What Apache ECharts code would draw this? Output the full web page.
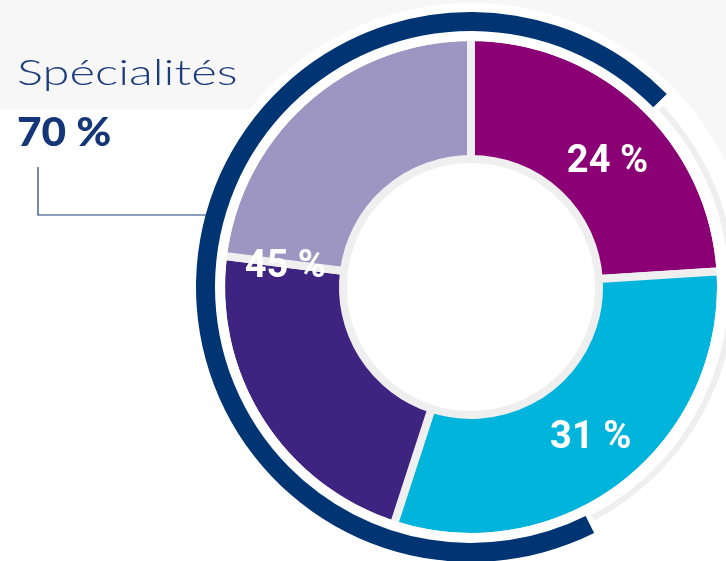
<!DOCTYPE html>
<html>
<head>
<meta charset="utf-8">
<script src="https://cdn.jsdelivr.net/npm/echarts@6/dist/echarts.min.js"></script>
<style>
html,body{margin:0;padding:0;background:#ffffff;}
#chart{width:726px;height:561px;}
</style>
</head>
<body>
<div id="chart"></div>
<script>
// ---- data ----
var sliceNames = ['A', 'B', 'C', 'D'];
var sliceValues = [24, 31, 22, 23];
var sliceColors = ['#8B0074', '#00B4DC', '#3E2480', '#9E96C2'];
var labelValues = [24, 31, 45];
var labelOffsets = [[5, 15], [2, 0], [4, 11]];
var ringTitle = 'Spécialités';
var ringValues = [70, 30];

var CX = 471, CY = 287;
var chart = echarts.init(document.getElementById('chart'), null, {renderer: 'canvas'});

var option = {
  backgroundColor: '#ffffff',
  animation: false,
  graphic: [
    {type: 'rect', z: -10, shape: {x: 0, y: 0, width: 726, height: 110}, style: {fill: '#f7f7f7'}, silent: true},
    {type: 'rect', z: -10, shape: {x: 600, y: 0, width: 126, height: 200}, style: {fill: '#f7f7f7'}, silent: true},
    {type: 'circle', z: -9, shape: {cx: CX, cy: CY, r: 284}, style: {fill: '#ffffff'}, silent: true},
    {type: 'text', z: 5, x: 17, y: 55, scaleX: 1.36, style: {text: ringTitle, x: 0, y: 0, fontSize: 36, fontWeight: 300, fontFamily: 'Lato, "Open Sans", sans-serif', fill: '#1D3C7C', verticalAlign: 'top'}},
    {type: 'text', z: 5, x: 17, y: 113, scaleX: 1.06, style: {text: ringValues[0] + ' %', x: 0, y: 0, fontSize: 40, fontWeight: 900, fontFamily: 'Lato, "Open Sans", sans-serif', fill: '#15377A', verticalAlign: 'top'}},
    {type: 'polyline', z: 5, shape: {points: [[38, 167], [38, 215], [206, 215]]}, style: {stroke: '#1D3C7C', lineWidth: 1.2, fill: null}}
  ],
  series: [
    {
      type: 'pie', silent: true, center: [CX, CY], radius: [128, 250],
      startAngle: 90, clockwise: true, label: {show: false}, labelLine: {show: false},
      emphasis: {disabled: true},
      itemStyle: {borderColor: '#efefef', borderWidth: 8, borderJoin: 'bevel'},
      data: sliceValues.map(function (v, i) { return {name: sliceNames[i], value: v, itemStyle: {color: sliceColors[i]}}; })
    },
    {
      type: 'pie', silent: true, center: [CX, CY], radius: [246, 256],
      label: {show: false}, labelLine: {show: false}, emphasis: {disabled: true},
      data: [{value: 1, itemStyle: {color: '#ffffff'}}]
    },
    {
      type: 'pie', silent: true, center: [CX, CY], radius: [256, 275],
      startAngle: 296.6, clockwise: true,
      label: {show: false}, labelLine: {show: false}, emphasis: {disabled: true},
      data: [{value: ringValues[0], itemStyle: {color: '#003473'}}, {value: ringValues[1], itemStyle: {color: 'rgba(0,0,0,0)'}}]
    },
    {
      type: 'pie', silent: true, center: [CX, CY], radius: [258, 264],
      startAngle: 296.6, clockwise: true, padAngle: 2.5,
      label: {show: false}, labelLine: {show: false}, emphasis: {disabled: true},
      data: [{value: ringValues[0], itemStyle: {color: 'rgba(0,0,0,0)'}}, {value: ringValues[1], itemStyle: {color: '#efefef'}}]
    },
    {
      type: 'pie', silent: true, center: [CX, CY], radius: [132, 246],
      startAngle: 90, clockwise: true, labelLine: {show: false}, emphasis: {disabled: true},
      avoidLabelOverlap: false,
      itemStyle: {color: 'rgba(0,0,0,0)'},
      label: {show: true, position: 'inside', formatter: '{c} %', color: '#ffffff',
        fontFamily: 'Roboto, sans-serif', fontWeight: 'bold', fontSize: 38},
      data: labelValues.map(function (v, i) { return {value: v, label: {offset: labelOffsets[i]}}; })
    }
  ]
};
chart.setOption(option);
</script>
</body>
</html>
